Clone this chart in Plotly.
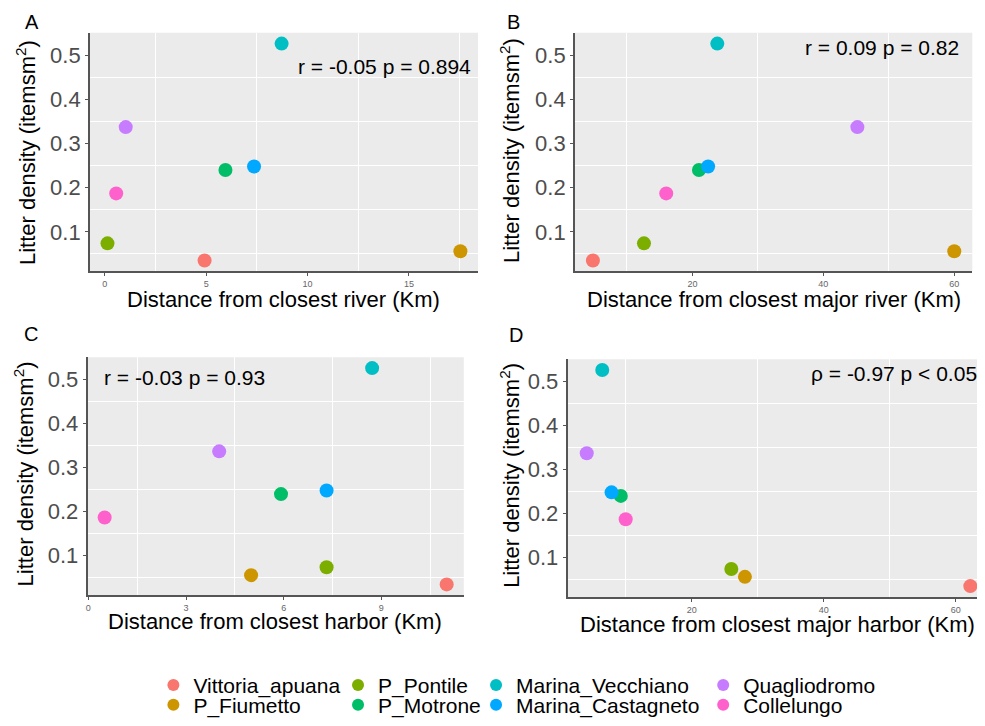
import plotly.graph_objects as go

# ---------------- data ----------------
sites = ["Vittoria_apuana", "P_Fiumetto", "P_Pontile", "P_Motrone",
         "Marina_Vecchiano", "Marina_Castagneto", "Quagliodromo", "Collelungo"]
colors = ["#F8766D", "#CD9600", "#7CAE00", "#00BE67",
          "#00BFC4", "#00A9FF", "#C77CFF", "#FF61CC"]
density = [0.035, 0.056, 0.074, 0.240, 0.526, 0.248, 0.337, 0.187]
dist_river = [4.92, 17.54, 0.13, 5.95, 8.72, 7.36, 1.03, 0.56]
dist_major_river = [4.8, 60.0, 12.6, 21.0, 23.8, 22.4, 45.2, 16.0]
dist_harbor = [11.01, 5.0, 7.32, 5.92, 8.72, 7.32, 4.02, 0.5]
dist_major_harbor = [62.2, 28.06, 26.0, 9.26, 6.45, 7.86, 4.1, 10.0]

y_ticks = [0.1, 0.2, 0.3, 0.4, 0.5]
y_minor = [0.05, 0.15, 0.25, 0.35, 0.45, 0.55]
xA_ticks = [0, 5, 10, 15]
xA_minor = [2.5, 7.5, 12.5, 17.5]
xB_ticks = [20, 40, 60]
xB_minor = [10, 30, 50]
xC_ticks = [0, 3, 6, 9]
xC_minor = [1.5, 4.5, 7.5, 10.5]
xD_ticks = [20, 40, 60]
xD_minor = [10, 30, 50]

x_titles = ["Distance from closest river (Km)",
            "Distance from closest major river (Km)",
            "Distance from closest harbor (Km)",
            "Distance from closest major harbor (Km)"]
y_title = "Litter density (itemsm<sup>2</sup>)"
stat_labels = ["r = -0.05 p = 0.894", "r = 0.09 p = 0.82",
               "r = -0.03 p = 0.93", "\u03c1 = -0.97 p < 0.05"]
panel_letters = ["A", "B", "C", "D"]

# ---------------- layout helpers ----------------
OFF = 8                     # page body margin of the html page
W, H = 985 - OFF, 726 - OFF
FONT = "Liberation Sans, Arial, sans-serif"


def fx(px):
    return (px - OFF) / W


def fy(py):
    return 1 - (py - OFF) / H


def expand(vals, frac=0.05):
    lo, hi = min(vals), max(vals)
    d = (hi - lo) * frac
    return [lo - d, hi + d]


panels = [
    dict(x=dist_river, ticks=xA_ticks, minor=xA_minor, box=(88, 477, 33, 274),
         xt=(282.5, 302), yt=(24, 153.5), stat=(471.7, 66.7, "right"), letter=(30, 22)),
    dict(x=dist_major_river, ticks=xB_ticks, minor=xB_minor, box=(574, 972.3, 33, 274),
         xt=(773.3, 302), yt=(508.5, 152), stat=(961, 48.3, "right"), letter=(512.7, 22)),
    dict(x=dist_harbor, ticks=xC_ticks, minor=xC_minor, box=(85.7, 462.7, 360.7, 601),
         xt=(274, 627.5), yt=(22, 478), stat=(100, 381, "left"), letter=(28.7, 337)),
    dict(x=dist_major_harbor, ticks=xD_ticks, minor=xD_minor, box=(566.7, 985, 362.7, 602.7),
         xt=(776.7, 631), yt=(509.5, 480), stat=(979, 376.7, "right"), letter=(515, 338.5)),
]

fig = go.Figure()
annotations = []
layout = dict(width=W, height=H, margin=dict(l=0, r=0, t=0, b=0),
              paper_bgcolor="white", plot_bgcolor="#EBEBEB",
              font=dict(family=FONT, color="black"))

yrange = expand(density)
AX = "#555555"

for p_i, p in enumerate(panels):
    n = "" if p_i == 0 else str(p_i + 1)
    x0, x1, y0, y1 = p["box"]
    xr = expand(p["x"])
    if p_i == 3:
        # right part of panel D is cut off by the image edge
        full_px = 989.5 - x0
        xr = [xr[0], xr[0] + (x1 - x0) * (xr[1] - xr[0]) / full_px]
    layout["xaxis" + n] = dict(
        domain=[max(0, fx(x0)), min(1, fx(x1))], anchor="y" + n, range=xr,
        tickmode="array", tickvals=p["ticks"], showgrid=False, zeroline=False,
        showline=True, linecolor=AX, linewidth=1.6, ticks="outside", ticklen=3,
        tickcolor=AX, tickwidth=1, tickfont=dict(size=9, color="#666666", family=FONT),
        minor=dict(tickmode="array", tickvals=p["minor"], showgrid=True,
                   gridcolor="white", gridwidth=1.4, ticks=""),
    )
    layout["yaxis" + n] = dict(
        domain=[fy(y1), fy(y0)], anchor="x" + n, range=yrange,
        tickmode="array", tickvals=y_ticks, ticktext=[f"{v:.1f}" for v in y_ticks],
        showgrid=False, zeroline=False,
        showline=True, linecolor=AX, linewidth=1.6, ticks="outside", ticklen=3,
        tickcolor=AX, tickwidth=1, tickfont=dict(size=22, color="#4D4D4D", family=FONT),
        minor=dict(tickmode="array", tickvals=y_minor, showgrid=True,
                   gridcolor="white", gridwidth=1.4, ticks=""),
    )
    for s_i, site in enumerate(sites):
        fig.add_trace(go.Scatter(
            x=[p["x"][s_i]], y=[density[s_i]], mode="markers", name=site,
            marker=dict(color=colors[s_i], size=14, line=dict(width=0)),
            xaxis="x" + n, yaxis="y" + n, legendgroup=site,
            showlegend=(p_i == 0),
            legend="legend" if s_i == 0 else "legend" + str(s_i + 1),
        ))
    # axis titles
    annotations.append(dict(text=x_titles[p_i], x=fx(p["xt"][0]), y=fy(p["xt"][1]),
                            xref="paper", yref="paper", xanchor="center", yanchor="middle",
                            showarrow=False, font=dict(size=22, color="black", family=FONT)))
    annotations.append(dict(text=y_title, x=fx(p["yt"][0]), y=fy(p["yt"][1]),
                            xref="paper", yref="paper", xanchor="center", yanchor="middle",
                            textangle=-90, showarrow=False,
                            font=dict(size=22, color="black", family=FONT)))
    sx, sy, sa = p["stat"]
    annotations.append(dict(text=stat_labels[p_i], x=fx(sx), y=fy(sy),
                            xref="paper", yref="paper", xanchor=sa, yanchor="middle",
                            showarrow=False, font=dict(size=21, color="black", family=FONT)))
    lx, ly = p["letter"]
    annotations.append(dict(text=panel_letters[p_i], x=fx(lx), y=fy(ly),
                            xref="paper", yref="paper", xanchor="center", yanchor="middle",
                            showarrow=False, font=dict(size=20, color="black", family=FONT)))

# legend: 4 columns x 2 rows, filled column-wise
legend_text_x = [191.7, 376.7, 515, 742.6]
legend_row_y = [692, 712]
for s_i in range(len(sites)):
    key = "legend" if s_i == 0 else "legend" + str(s_i + 1)
    c, r = s_i // 2, s_i % 2
    layout[key] = dict(x=fx(legend_text_x[c] - 40), y=fy(legend_row_y[r]),
                       xanchor="left", yanchor="middle", bgcolor="rgba(0,0,0,0)",
                       font=dict(size=21, color="black", family=FONT),
                       itemsizing="constant", borderwidth=0)

layout["annotations"] = annotations
fig.update_layout(**layout)
fig.write_html("out.html")
